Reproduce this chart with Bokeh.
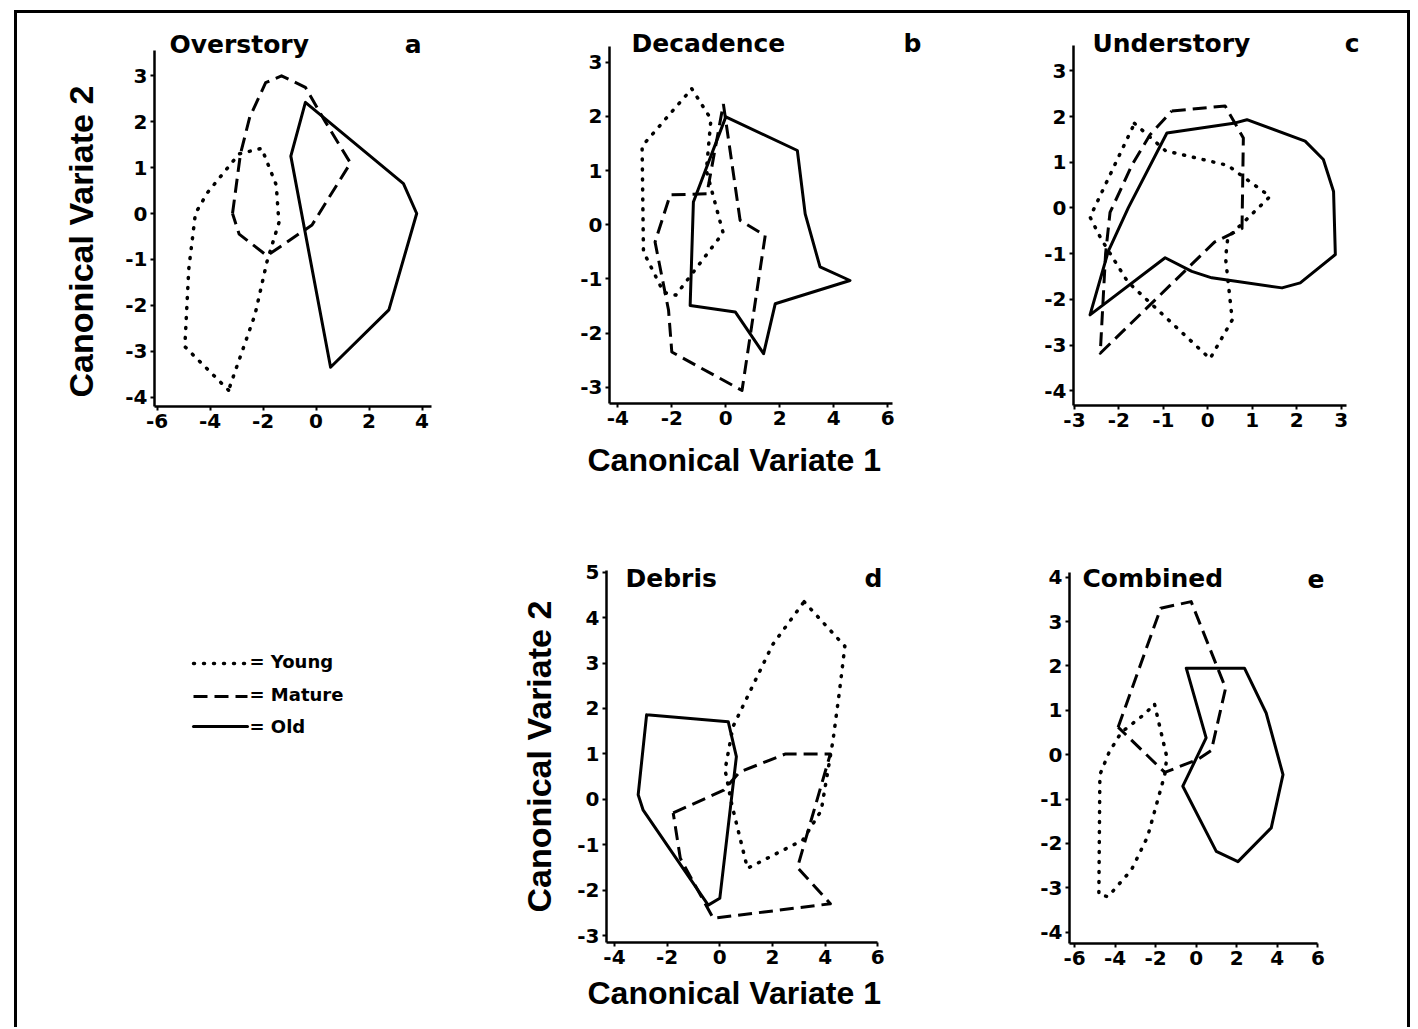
from bokeh.plotting import figure
from bokeh.layouts import row, column
from bokeh.models import FixedTicker, Label, Range1d, Title
from bokeh.core.properties import value
from bokeh.embed import file_html
from bokeh.resources import INLINE

FONT = "DejaVu Sans"
LABEL_FONT = "Liberation Sans"

# ---------------- data (canonical variate hull vertices) ----------------
# Panel a: Overstory
a_young_x = [-3.3, -4.95, -4.8, -4.55, -4.1, -2.9, -2.05, -1.5, -1.4, -1.85, -2.3]
a_young_y = [-3.85, -2.9, -1.2, 0.0, 0.45, 1.3, 1.42, 0.62, -0.2, -1.05, -2.2]
a_mature_x = [-3.15, -2.85, -2.5, -1.9, -1.3, -0.4, 0.35, 1.3, -0.15, -1.85, -2.9]
a_mature_y = [0.0, 1.3, 2.1, 2.85, 3.0, 2.75, 2.0, 1.1, -0.25, -0.92, -0.45]
a_old_x = [-0.4, -0.95, 0.55, 2.75, 3.8, 3.3]
a_old_y = [2.42, 1.25, -3.35, -2.1, 0.0, 0.65]

# Panel b: Decadence
b_young_x = [-1.26, -0.55, -0.72, -0.1, -1.85, -2.3, -3.05, -3.1]
b_young_y = [2.51, 1.95, 1.0, -0.15, -1.3, -1.25, -0.5, 1.45]
b_mature_x = [-0.09, 0.53, 1.46, 0.6, -2.0, -2.12, -2.62, -2.06, -0.7]
b_mature_y = [2.23, 0.08, -0.2, -3.06, -2.35, -1.58, -0.32, 0.55, 0.57]
b_old_x = [0.0, 2.65, 2.94, 3.49, 4.6, 1.83, 1.4, 0.35, -1.32, -1.2]
b_old_y = [1.99, 1.37, 0.2, -0.78, -1.03, -1.46, -2.38, -1.61, -1.49, 0.42]

# Panel c: Understory
c_young_x = [-1.65, -0.95, 0.45, 1.4, 0.45, 0.4, 0.55, 0.05, -1.8, -2.4, -2.65]
c_young_y = [1.85, 1.25, 0.93, 0.25, -0.65, -1.1, -2.45, -3.3, -1.62, -0.68, -0.2]
c_mature_x = [-0.81, 0.39, 0.8, 0.77, 0.15, -2.42, -2.3, -2.2, -1.7, -1.3]
c_mature_y = [2.12, 2.23, 1.53, -0.45, -0.75, -3.18, -1.0, -0.1, 0.95, 1.6]
c_old_x = [-0.92, 0.62, 0.88, 2.19, 2.6, 2.83, 2.87, 2.08, 1.67, 0.09, -0.36, -0.96, -2.65, -2.24, -1.79]
c_old_y = [1.64, 1.86, 1.93, 1.46, 1.06, 0.36, -1.02, -1.64, -1.75, -1.53, -1.39, -1.09, -2.34, -0.95, 0.0]

# Panel d: Debris
d_young_x = [3.2, 4.75, 4.55, 4.3, 3.85, 3.15, 1.05, 0.45, 0.2, 0.5, 2.0]
d_young_y = [4.35, 3.37, 2.4, 1.3, -0.25, -0.9, -1.52, -0.1, 0.65, 1.6, 3.4]
d_mature_x = [-1.77, 0.15, 0.75, 2.5, 4.2, 2.95, 4.2, -0.25, -1.5]
d_mature_y = [-0.3, 0.2, 0.6, 1.0, 1.0, -1.5, -2.3, -2.62, -1.3]
d_old_x = [-2.78, 0.32, 0.63, 0.0, -0.44, -2.91, -3.1]
d_old_y = [1.86, 1.71, 0.94, -2.18, -2.33, -0.24, 0.1]

# Panel e: Combined
e_young_x = [-2.05, -1.45, -1.55, -2.4, -3.2, -4.35, -4.8, -4.75, -4.3, -3.7, -2.7]
e_young_y = [1.13, -0.05, -0.45, -1.85, -2.6, -3.2, -3.15, -0.45, 0.05, 0.5, 0.86]
e_mature_x = [-3.85, -1.75, -0.25, 1.45, 0.75, 0.1, -1.55]
e_mature_y = [0.62, 3.3, 3.45, 1.5, 0.1, -0.1, -0.4]
e_old_x = [-0.49, 2.38, 3.45, 4.28, 3.7, 2.06, 0.99, -0.66, 0.49]
e_old_y = [1.95, 1.95, 0.94, -0.45, -1.65, -2.41, -2.18, -0.71, 0.38]

# tick labels
a_xticks = [-6, -4, -2, 0, 2, 4]
a_yticks = [-4, -3, -2, -1, 0, 1, 2, 3]
b_xticks = [-4, -2, 0, 2, 4, 6]
b_yticks = [-3, -2, -1, 0, 1, 2, 3]
c_xticks = [-3, -2, -1, 0, 1, 2, 3]
c_yticks = [-4, -3, -2, -1, 0, 1, 2, 3]
d_xticks = [-4, -2, 0, 2, 4, 6]
d_yticks = [-3, -2, -1, 0, 1, 2, 3, 4, 5]
e_xticks = [-6, -4, -2, 0, 2, 4, 6]
e_yticks = [-4, -3, -2, -1, 0, 1, 2, 3, 4]

series_names = ["young", "mature", "old"]
series_labels = ["= Young", "= Mature", "= Old"]
panel_titles = ["Overstory", "Decadence", "Understory", "Debris", "Combined"]
panel_letters = ["a", "b", "c", "d", "e"]
xlabel = "Canonical Variate 1"
ylabel = "Canonical Variate 2"

# ---------------- styling / layout ----------------
STYLES = {
    "young": dict(line_dash="1 9", line_cap="round", line_width=3.5),
    "mature": dict(line_dash="14 7", line_cap="butt", line_width=3),
    "old": dict(line_width=3, line_cap="round"),
}
TITLE_SHIFT = 9   # svg text baseline correction (px)


def make_panel(cell, frame, axis_end, scale, xt, yt, series, title, letter, tpos, lpos):
    cx0, cy0, cx1, cy1 = cell
    fl_, fr_, ft_, fb_ = frame
    sx, x0, sy, y0 = scale

    def X(px):
        return (px - x0) / sx

    def Y(py):
        return (y0 - py) / sy

    p = figure(x_range=Range1d(X(fl_), X(fr_)), y_range=Range1d(Y(fb_), Y(ft_)),
               frame_width=fr_ - fl_, frame_height=fb_ - ft_,
               min_border_left=fl_ - cx0, min_border_right=cx1 - fr_,
               min_border_top=ft_ - cy0, min_border_bottom=cy1 - fb_,
               output_backend="svg", toolbar_location=None, tools="")
    p.grid.visible = False
    p.outline_line_color = None
    p.xaxis.ticker = FixedTicker(ticks=xt)
    p.yaxis.ticker = FixedTicker(ticks=yt)
    p.xaxis.major_label_overrides = {t: str(t) for t in xt}
    p.yaxis.major_label_overrides = {t: str(t) for t in yt}
    p.xaxis.bounds = (X(fl_), X(axis_end[0]))
    p.yaxis.bounds = (Y(fb_), Y(axis_end[1]))
    for ax in (p.xaxis[0], p.yaxis[0]):
        ax.axis_line_width = 2.5
        ax.axis_line_color = "black"
        ax.major_tick_line_width = 2
        ax.major_tick_line_color = "black"
        ax.major_tick_out = 4
        ax.major_tick_in = 0
        ax.minor_tick_line_color = None
        ax.major_label_text_font = FONT
        ax.major_label_text_font_style = "bold"
        ax.major_label_text_font_size = "20px"
        ax.major_label_text_color = "black"
        ax.major_label_standoff = 3
    for kind in series_names:
        xs, ys = series[kind]
        p.line(xs + [xs[0]], ys + [ys[0]], line_color="black",
               line_join="round", **STYLES[kind])
    p.add_layout(Label(x=X(tpos[0]), y=Y(tpos[1] - TITLE_SHIFT), text=title, text_color="black",
                       text_font=FONT, text_font_style="bold", text_font_size="25px",
                       text_baseline="alphabetic", text_align="left"))
    p.add_layout(Label(x=X(lpos[0]), y=Y(lpos[1] - TITLE_SHIFT), text=letter, text_color="black",
                       text_font=FONT, text_font_style="bold", text_font_size="25px",
                       text_baseline="alphabetic", text_align="right"))
    return p


def axis_title(p, text, side, offset, standoff, size):
    t = Title(text=text, align="left", offset=offset, standoff=standoff,
              text_font=LABEL_FONT, text_font_style="bold", text_font_size=size,
              text_color="black")
    p.add_layout(t, side)


fa = make_panel((18, 13, 515, 513), (155, 432, 28, 406), (432, 50),
                (26.5, 316.5, 45.9, 213.0), a_xticks, a_yticks,
                {"young": (a_young_x, a_young_y), "mature": (a_mature_x, a_mature_y),
                 "old": (a_old_x, a_old_y)},
                panel_titles[0], panel_letters[0], (170, 53), (422, 53))
axis_title(fa, ylabel, "left", 9, 45, "34px")

fb = make_panel((515, 13, 990, 513), (610, 930, 28, 403), (893, 46),
                (27.0, 726.3, 54.17, 224.2), b_xticks, b_yticks,
                {"young": (b_young_x, b_young_y), "mature": (b_mature_x, b_mature_y),
                 "old": (b_old_x, b_old_y)},
                panel_titles[1], panel_letters[1], (632, 52), (922, 52))
axis_title(fb, xlabel, "below", -22, 24, "32px")

fc = make_panel((990, 13, 1408, 513), (1074, 1364, 26, 403), (1347, 43),
                (44.44, 1208.3, 45.7, 205.4), c_xticks, c_yticks,
                {"young": (c_young_x, c_young_y), "mature": (c_mature_x, c_mature_y),
                 "old": (c_old_x, c_old_y)},
                panel_titles[2], panel_letters[2], (1093, 50), (1360, 50))

fd = make_panel((488, 513, 990, 1027), (607, 886, 566, 942), (878, 570),
                (26.33, 720.3, 45.42, 798.8), d_xticks, d_yticks,
                {"young": (d_young_x, d_young_y), "mature": (d_mature_x, d_mature_y),
                 "old": (d_old_x, d_old_y)},
                panel_titles[3], panel_letters[3], (626, 587), (883, 587))
axis_title(fd, ylabel, "left", 30, 34, "34px")
axis_title(fd, xlabel, "below", -19, 12, "32px")

fe = make_panel((990, 513, 1408, 1027), (1070, 1328, 566, 943), (1318, 572),
                (20.28, 1196.7, 44.375, 754.2), e_xticks, e_yticks,
                {"young": (e_young_x, e_young_y), "mature": (e_mature_x, e_mature_y),
                 "old": (e_old_x, e_old_y)},
                panel_titles[4], panel_letters[4], (1083, 587), (1325, 587))

# legend panel: its ranges are expressed in page pixels (y negated, pointing up)
LEG_X0, LEG_Y0, LEG_W, LEG_H = 18, 513, 470, 514
LEG_FIX = 54      # measured vertical offset of this panel's frame
leg_line_x = (194, 248)
leg_line_y = [664, 697, 727]
leg_text_x = 250
leg_text_y = [662, 695, 727]
fl = figure(x_range=Range1d(LEG_X0, LEG_X0 + LEG_W),
            y_range=Range1d(-(LEG_Y0 + LEG_H + LEG_FIX), -(LEG_Y0 + LEG_FIX)),
            frame_width=LEG_W, frame_height=LEG_H,
            min_border_left=0, min_border_right=0, min_border_top=0, min_border_bottom=0,
            x_axis_location=None, y_axis_location=None, align="start",
            output_backend="svg", toolbar_location=None, tools="")
fl.grid.visible = False
fl.outline_line_color = None
for kind, lab, ly, ty in zip(series_names, series_labels, leg_line_y, leg_text_y):
    fl.line(list(leg_line_x), [-ly, -ly], line_color="black", **STYLES[kind])
    fl.text([leg_text_x], [-ty], text=[lab], text_font=value(FONT), text_font_style="bold",
            text_font_size="18px", text_baseline="middle", text_align="left", text_color="black")

lay = column(row(fa, fb, fc), row(fl, fd, fe), margin=(10, 0, 0, 14),
             styles={"border-top": "3px solid black", "border-left": "3px solid black",
                     "border-right": "3px solid black"})

open("out.html", "w").write(file_html(lay, INLINE))
